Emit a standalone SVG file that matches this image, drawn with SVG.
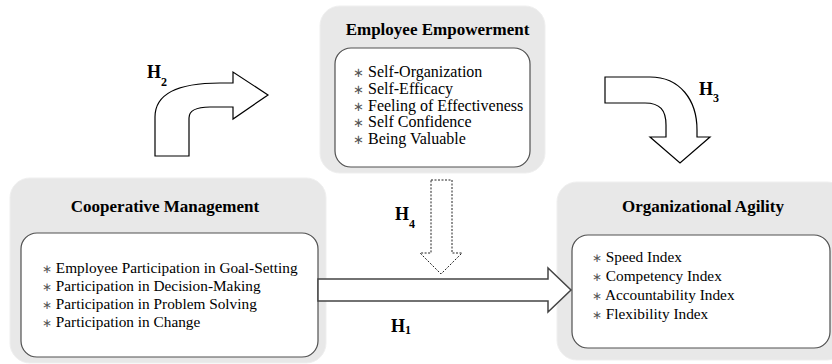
<svg xmlns="http://www.w3.org/2000/svg" width="832" height="364" viewBox="0 0 832 364">
<defs>
<style>
.outer{fill:#e8e8e8;stroke:#efefef;stroke-width:1}
.inner{fill:#ffffff;stroke:#505050;stroke-width:1.2}
.title{font-family:"Liberation Serif","Times New Roman",serif;font-weight:bold;font-size:17px;fill:#000;text-anchor:middle}
.item{font-family:"Liberation Serif","Times New Roman",serif;font-size:15.3px;fill:#000}
.itemL{font-family:"Liberation Serif","Times New Roman",serif;font-size:16px;fill:#000}
.ast{fill:#555;font-size:0.8em}
.lbl{font-family:"Liberation Serif","Times New Roman",serif;font-weight:bold;font-size:18px;fill:#000}
.sub{font-size:12px}
.blk{fill:#fff;stroke:#000;stroke-width:1.2;stroke-linejoin:miter}
</style>
</defs>

<g id="employee-empowerment">
<rect class="outer" x="320" y="6" width="225" height="167" rx="20"/>
<rect class="inner" x="335" y="48" width="195" height="119" rx="16"/>
<text class="title" x="437.5" y="35">Employee Empowerment</text>
<text class="itemL" x="353" y="77"><tspan class="ast">∗</tspan> Self-Organization</text>
<text class="itemL" x="353" y="94"><tspan class="ast">∗</tspan> Self-Efficacy</text>
<text class="itemL" x="353" y="111"><tspan class="ast">∗</tspan> Feeling of Effectiveness</text>
<text class="itemL" x="353" y="127"><tspan class="ast">∗</tspan> Self Confidence</text>
<text class="itemL" x="353" y="144"><tspan class="ast">∗</tspan> Being Valuable</text>
</g>

<g id="cooperative-management">
<rect class="outer" x="10" y="178" width="316" height="185" rx="20"/>
<rect class="inner" x="21" y="233" width="297" height="124" rx="16"/>
<text class="title" x="165" y="212">Cooperative Management</text>
<text class="item" x="42" y="273"><tspan class="ast">∗</tspan> Employee Participation in Goal-Setting</text>
<text class="item" x="42" y="291"><tspan class="ast">∗</tspan> Participation in Decision-Making</text>
<text class="item" x="42" y="309"><tspan class="ast">∗</tspan> Participation in Problem Solving</text>
<text class="item" x="42" y="327"><tspan class="ast">∗</tspan> Participation in Change</text>
</g>

<g id="organizational-agility">
<rect class="outer" x="557" y="182" width="290" height="178" rx="20"/>
<rect class="inner" x="572" y="235" width="258" height="113" rx="16"/>
<text class="title" x="703" y="212">Organizational Agility</text>
<text class="item" x="592" y="262"><tspan class="ast">∗</tspan> Speed Index</text>
<text class="item" x="592" y="281"><tspan class="ast">∗</tspan> Competency Index</text>
<text class="item" x="592" y="300"><tspan class="ast">∗</tspan> Accountability Index</text>
<text class="item" x="592" y="319"><tspan class="ast">∗</tspan> Flexibility Index</text>
</g>

<g id="connectors">
<path id="h2-arrow" class="blk" d="M155,156 L155,117 C155,95 175,83 220,83 L233,83 L233,72 L268,95 L233,119 L233,107 L210,107 C197,107 189,110 189,118 L189,156 Z"/>
<path id="h3-arrow" class="blk" d="M605,77 L650,77 C680,77 697,100 697,130 L697,137 L710,137 L680,163 L650,137 L666,137 L666,125 C666,110 660,103 645,103 L605,103 Z"/>
<path id="h1-arrow" d="M318,279 L548,279 L548,268 L571,290 L548,312 L548,301 L318,301 Z" fill="#fff" stroke="#444" stroke-width="1.5"/>
<path id="h4-arrow" d="M431,180 L452,180 L452,253 L462,253 L441,274 L420,253 L431,253 Z" fill="#fff" stroke="#222" stroke-width="1" stroke-dasharray="2 1.5"/>
<text class="lbl" x="147" y="78">H<tspan class="sub" dy="8">2</tspan></text>
<text class="lbl" x="699" y="95">H<tspan class="sub" dy="7">3</tspan></text>
<text class="lbl" x="395" y="220">H<tspan class="sub" dy="8">4</tspan></text>
<text class="lbl" x="391" y="332">H<tspan class="sub" dy="2">1</tspan></text>
</g>
</svg>
